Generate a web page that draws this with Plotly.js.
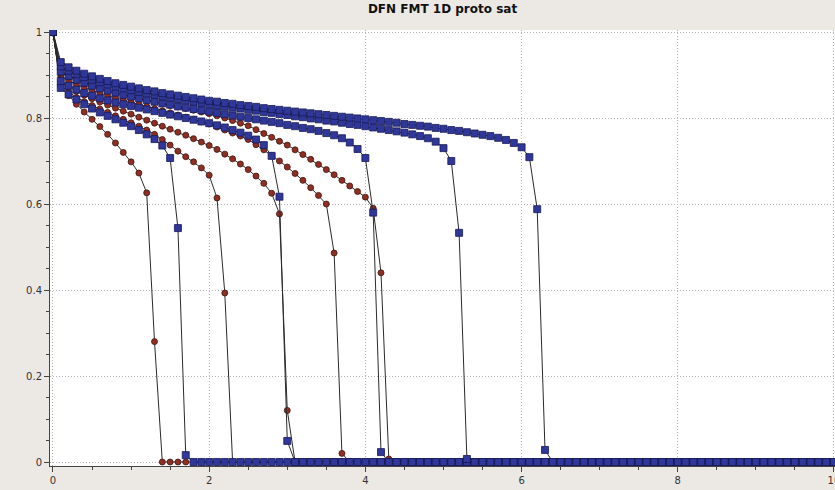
<!DOCTYPE html>
<html>
<head>
<meta charset="utf-8">
<script src="https://cdn.plot.ly/plotly-3.0.1.min.js"></script>
<style>
  html, body { margin: 0; padding: 0; background: #ECE9E4; }
  #chart { width: 835px; height: 490px; }
</style>
</head>
<body>
<div id="chart"></div>
<script>
// Sample positions shared by every run (one row per unit of x)
const xs = [
  0,0.1,0.2,0.3,0.4,0.5,0.6,0.7,0.8,0.9,
  1,1.1,1.2,1.3,1.4,1.5,1.6,1.7,1.8,1.9,
  2,2.1,2.2,2.3,2.4,2.5,2.6,2.7,2.8,2.9,
  3,3.1,3.2,3.3,3.4,3.5,3.6,3.7,3.8,3.9,
  4,4.1,4.2,4.3,4.4,4.5,4.6,4.7,4.8,4.9,
  5,5.1,5.2,5.3,5.4,5.5,5.6,5.7,5.8,5.9,
  6,6.1,6.2,6.3,6.4,6.5,6.6,6.7,6.8,6.9,
  7,7.1,7.2,7.3,7.4,7.5,7.6,7.7,7.8,7.9,
  8,8.1,8.2,8.3,8.4,8.5,8.6,8.7,8.8,8.9,
  9,9.1,9.2,9.3,9.4,9.5,9.6,9.7,9.8,9.9,
  10
];

// Saturation profiles, square-marker runs
const satSq1 = [
  1,.870,.855,.843,.832,.822,.813,.805,.797,.789,
  .781,.772,.762,.751,.736,.707,.544,.016,0,0,
  0,0,0,0,0,0,0,0,0,0,
  0,0,0,0,0,0,0,0,0,0,
  0,0,0,0,0,0,0,0,0,0,
  0,0,0,0,0,0,0,0,0,0,
  0,0,0,0,0,0,0,0,0,0,
  0,0,0,0,0,0,0,0,0,0,
  0,0,0,0,0,0,0,0,0,0,
  0,0,0,0,0,0,0,0,0,0,
  0
];
const satSq2 = [
  1,.886,.875,.866,.858,.852,.846,.841,.836,.832,
  .828,.824,.820,.816,.812,.808,.804,.800,.796,.792,
  .788,.783,.778,.772,.766,.759,.750,.737,.712,.617,
  .049,0,0,0,0,0,0,0,0,0,
  0,0,0,0,0,0,0,0,0,0,
  0,0,0,0,0,0,0,0,0,0,
  0,0,0,0,0,0,0,0,0,0,
  0,0,0,0,0,0,0,0,0,0,
  0,0,0,0,0,0,0,0,0,0,
  0,0,0,0,0,0,0,0,0,0,
  0
];
const satSq3 = [
  1,.908,.898,.889,.882,.875,.869,.864,.859,.854,
  .850,.846,.842,.838,.834,.831,.827,.824,.821,.818,
  .815,.812,.809,.806,.803,.800,.797,.794,.791,.788,
  .784,.781,.777,.774,.770,.765,.760,.753,.743,.728,
  .707,.580,.023,0,0,0,0,0,0,0,
  0,0,0,0,0,0,0,0,0,0,
  0,0,0,0,0,0,0,0,0,0,
  0,0,0,0,0,0,0,0,0,0,
  0,0,0,0,0,0,0,0,0,0,
  0,0,0,0,0,0,0,0,0,0,
  0
];
const satSq4 = [
  1,.920,.910,.902,.895,.889,.883,.878,.873,.869,
  .865,.861,.857,.854,.850,.847,.844,.841,.838,.835,
  .832,.829,.827,.824,.822,.819,.817,.814,.812,.809,
  .807,.804,.802,.799,.797,.794,.792,.789,.786,.784,
  .781,.778,.775,.772,.769,.766,.762,.758,.753,.745,
  .730,.700,.533,.007,0,0,0,0,0,0,
  0,0,0,0,0,0,0,0,0,0,
  0,0,0,0,0,0,0,0,0,0,
  0,0,0,0,0,0,0,0,0,0,
  0,0,0,0,0,0,0,0,0,0,
  0
];
const satSq5 = [
  1,.930,.918,.910,.903,.897,.891,.886,.881,.877,
  .873,.869,.865,.862,.858,.855,.852,.849,.846,.843,
  .840,.838,.835,.833,.830,.828,.826,.823,.821,.819,
  .817,.815,.813,.811,.809,.807,.805,.803,.801,.799,
  .797,.795,.793,.791,.789,.786,.784,.782,.780,.777,
  .775,.772,.770,.767,.764,.761,.758,.754,.749,.742,
  .732,.709,.588,.028,0,0,0,0,0,0,
  0,0,0,0,0,0,0,0,0,0,
  0,0,0,0,0,0,0,0,0,0,
  0,0,0,0,0,0,0,0,0,0,
  0
];

// Saturation profiles, circle-marker runs
const satCi1 = [
  1,.874,.852,.832,.814,.797,.780,.762,.742,.720,
  .698,.672,.626,.280,0,0,0,0,0,0,
  0,0,0,0,0,0,0,0,0,0,
  0,0,0,0,0,0,0,0,0,0,
  0,0,0,0,0,0,0,0,0,0,
  0,0,0,0,0,0,0,0,0,0,
  0,0,0,0,0,0,0,0,0,0,
  0,0,0,0,0,0,0,0,0,0,
  0,0,0,0,0,0,0,0,0,0,
  0,0,0,0,0,0,0,0,0,0,
  0
];
const satCi2 = [
  1,.876,.860,.848,.838,.829,.821,.813,.805,.797,
  .789,.781,.772,.762,.750,.737,.723,.710,.698,.684,
  .667,.614,.393,0,0,0,0,0,0,0,
  0,0,0,0,0,0,0,0,0,0,
  0,0,0,0,0,0,0,0,0,0,
  0,0,0,0,0,0,0,0,0,0,
  0,0,0,0,0,0,0,0,0,0,
  0,0,0,0,0,0,0,0,0,0,
  0,0,0,0,0,0,0,0,0,0,
  0,0,0,0,0,0,0,0,0,0,
  0
];
const satCi3 = [
  1,.885,.872,.862,.853,.845,.837,.830,.823,.816,
  .809,.802,.795,.788,.781,.774,.767,.760,.752,.744,
  .736,.727,.716,.705,.693,.680,.665,.648,.625,.577,
  .120,0,0,0,0,0,0,0,0,0,
  0,0,0,0,0,0,0,0,0,0,
  0,0,0,0,0,0,0,0,0,0,
  0,0,0,0,0,0,0,0,0,0,
  0,0,0,0,0,0,0,0,0,0,
  0,0,0,0,0,0,0,0,0,0,
  0,0,0,0,0,0,0,0,0,0,
  0
];
const satCi4 = [
  1,.898,.887,.878,.871,.864,.858,.852,.847,.842,
  .837,.832,.827,.822,.817,.812,.807,.802,.797,.791,
  .786,.779,.772,.765,.758,.750,.738,.726,.713,.700,
  .686,.671,.655,.638,.620,.600,.486,.020,0,0,
  0,0,0,0,0,0,0,0,0,0,
  0,0,0,0,0,0,0,0,0,0,
  0,0,0,0,0,0,0,0,0,0,
  0,0,0,0,0,0,0,0,0,0,
  0,0,0,0,0,0,0,0,0,0,
  0,0,0,0,0,0,0,0,0,0,
  0
];
const satCi5 = [
  1,.905,.895,.887,.880,.874,.868,.863,.858,.853,
  .849,.845,.841,.837,.833,.829,.826,.822,.818,.814,
  .810,.805,.800,.794,.788,.782,.773,.764,.755,.746,
  .737,.726,.715,.704,.692,.680,.668,.655,.642,.629,
  .616,.590,.440,.007,0,0,0,0,0,0,
  0,0,0,0,0,0,0,0,0,0,
  0,0,0,0,0,0,0,0,0,0,
  0,0,0,0,0,0,0,0,0,0,
  0,0,0,0,0,0,0,0,0,0,
  0,0,0,0,0,0,0,0,0,0,
  0
];

const xTickVals = [0, 2, 4, 6, 8, 10];
const xTickText = ['0', '2', '4', '6', '8', '10'];
const yTickVals = [0, 0.2, 0.4, 0.6, 0.8, 1];
const yTickText = ['0', '0.2', '0.4', '0.6', '0.8', '1'];

const circleRuns = [satCi1, satCi2, satCi3, satCi4, satCi5];
const squareRuns = [satSq1, satSq2, satSq3, satSq4, satSq5];

const lineStyle = { color: '#2a2a2a', width: 1 };
const traces = [];

circleRuns.forEach(function (ys) {
  traces.push({
    type: 'scatter', mode: 'lines+markers', x: xs, y: ys,
    line: lineStyle,
    marker: { symbol: 'circle', size: 6, color: '#8e2e24',
              line: { color: '#40160f', width: 0.8 } },
    hoverinfo: 'skip', showlegend: false
  });
});
squareRuns.forEach(function (ys) {
  traces.push({
    type: 'scatter', mode: 'lines+markers', x: xs, y: ys,
    line: lineStyle,
    marker: { symbol: 'square', size: 7, color: '#30379a',
              line: { color: '#181a55', width: 0.8 } },
    hoverinfo: 'skip', showlegend: false
  });
});

const axisFont = { family: 'DejaVu Sans, sans-serif', size: 10, color: '#333' };
const gridStyle = { showgrid: true, gridcolor: '#b4b4b4', griddash: '1px,2px', gridwidth: 1 };

const layout = {
  width: 835, height: 490,
  paper_bgcolor: '#ECE9E4',
  plot_bgcolor: '#FFFFFF',
  margin: { l: 50, r: 0, t: 30, b: 24 },
  title: {
    text: '<b>DFN FMT 1D proto sat</b>',
    x: 0.53, xanchor: 'center', y: 0.99, yanchor: 'top',
    font: { family: 'DejaVu Sans, sans-serif', size: 12, color: '#111' }
  },
  xaxis: Object.assign({
    range: [-0.038, 10.013],
    tickvals: xTickVals, ticktext: xTickText,
    ticks: 'outside', ticklen: 5, tickcolor: '#444',
    showline: true, linecolor: '#444', linewidth: 1,
    zeroline: false, tickfont: axisFont, ticklabeloverflow: 'allow',
    minor: { dtick: 0.5, ticks: 'outside', ticklen: 3, tickcolor: '#444', showgrid: false }
  }, gridStyle),
  yaxis: Object.assign({
    range: [-0.0093, 1.0047],
    tickvals: yTickVals, ticktext: yTickText,
    ticks: 'outside', ticklen: 5, tickcolor: '#444',
    showline: true, linecolor: '#444', linewidth: 1,
    zeroline: false, tickfont: axisFont,
    minor: { dtick: 0.05, ticks: 'outside', ticklen: 3, tickcolor: '#444', showgrid: false }
  }, gridStyle)
};

Plotly.newPlot('chart', traces, layout, { staticPlot: true, displayModeBar: false });
</script>
</body>
</html>
